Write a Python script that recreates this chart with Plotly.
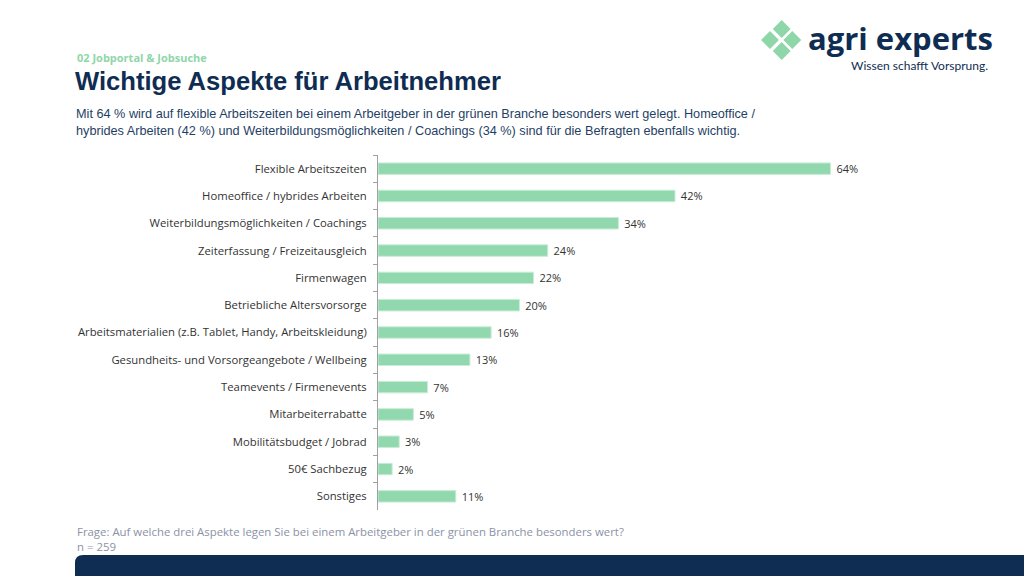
import plotly.graph_objects as go

categories = [
    "Flexible Arbeitszeiten",
    "Homeoffice / hybrides Arbeiten",
    "Weiterbildungsmöglichkeiten / Coachings",
    "Zeiterfassung / Freizeitausgleich",
    "Firmenwagen",
    "Betriebliche Altersvorsorge",
    "Arbeitsmaterialien (z.B. Tablet, Handy, Arbeitskleidung)",
    "Gesundheits- und Vorsorgeangebote / Wellbeing",
    "Teamevents / Firmenevents",
    "Mitarbeiterrabatte",
    "Mobilitätsbudget / Jobrad",
    "50€ Sachbezug",
    "Sonstiges",
]
values = [64, 42, 34, 24, 22, 20, 16, 13, 7, 5, 3, 2, 11]
labels = [f"{v}%" for v in values]

W, H = 1024, 576
L, R, T, B = 378, 873, 155, 510

def px(x):
    return (x - L) / (R - L)

def py(y):
    return (B - y) / (B - T)

NAVY = "#0F2D52"
GREEN = "#92D8AE"

fig = go.Figure(go.Bar(
    x=values, y=categories, orientation="h",
    marker=dict(color=GREEN, line=dict(color="#C8EDD6", width=1)),
    width=0.42,
    text=labels, texttemplate=" %{text}", textposition="outside", cliponaxis=False,
    constraintext="none",
    textfont=dict(family="Open Sans", size=11, color="#333333"),
    hoverinfo="skip",
))

fig.update_layout(
    width=W, height=H,
    margin=dict(l=L, r=W - R, t=T, b=H - B),
    paper_bgcolor="white", plot_bgcolor="white",
    showlegend=False,
    xaxis=dict(range=[0, 70], visible=False, fixedrange=True),
    yaxis=dict(
        autorange="reversed", showgrid=False, zeroline=False,
        showline=True, linecolor="#A0A0A0", linewidth=1,
        ticks="outside", ticklen=4, tickcolor="#A0A0A0", tickson="boundaries",
        ticklabelstandoff=8,
        tickfont=dict(family="Open Sans", size=11.3, color="#333333"),
    ),
    font=dict(family="Liberation Sans"),
)

ann = []
ann.append(dict(text="<b>02 Jobportal & Jobsuche</b>", x=px(75), y=py(58), xref="paper", yref="paper",
                xanchor="left", yanchor="middle", showarrow=False,
                font=dict(family="Open Sans", size=11, color="#8FD6A9")))
ann.append(dict(text="<b>Wichtige Aspekte für Arbeitnehmer</b>", x=px(73), y=py(81), xref="paper", yref="paper",
                xanchor="left", yanchor="middle", showarrow=False,
                font=dict(family="Liberation Sans", size=25.6, color=NAVY)))
ann.append(dict(text="Mit 64 % wird auf flexible Arbeitszeiten bei einem Arbeitgeber in der grünen Branche besonders wert gelegt. Homeoffice /<br>"
                     "hybrides Arbeiten (42 %) und Weiterbildungsmöglichkeiten / Coachings (34 %) sind für die Befragten ebenfalls wichtig.",
                x=px(74), y=py(123), xref="paper", yref="paper", align="left",
                xanchor="left", yanchor="middle", showarrow=False,
                font=dict(family="Liberation Sans", size=12.7, color="#1F3F66")))
ann.append(dict(text="<b>agri experts</b>", x=px(806), y=py(38), xref="paper", yref="paper",
                xanchor="left", yanchor="middle", showarrow=False,
                font=dict(family="Open Sans", size=31, color=NAVY)))
ann.append(dict(text="Wissen schafft Vorsprung.", x=px(990), y=py(66), xref="paper", yref="paper",
                xanchor="right", yanchor="middle", showarrow=False,
                font=dict(family="Lato", size=12, color=NAVY)))
ann.append(dict(text="Frage: Auf welche drei Aspekte legen Sie bei einem Arbeitgeber in der grünen Branche besonders wert?",
                x=px(75), y=py(531), xref="paper", yref="paper",
                xanchor="left", yanchor="middle", showarrow=False,
                font=dict(family="Open Sans", size=11.4, color="#8A92A6")))
ann.append(dict(text="n = 259", x=px(75), y=py(546), xref="paper", yref="paper",
                xanchor="left", yanchor="middle", showarrow=False,
                font=dict(family="Open Sans", size=11.4, color="#8A92A6")))
fig.update_layout(annotations=ann)

shapes = []
# logo diamonds
for cx, cy in [(781.7, 29), (770, 40), (792.3, 40), (781.7, 51)]:
    d = 7.5
    path = (f"M {px(cx)},{py(cy-d)} L {px(cx+d)},{py(cy)} L {px(cx)},{py(cy+d)} L {px(cx-d)},{py(cy)} Z")
    shapes.append(dict(type="path", path=path, xref="paper", yref="paper",
                       fillcolor="#8FD6A9", line=dict(width=2, color="#8FD6A9")))
# bottom bar with rounded top-left corner
r = 8
x0, y0, x1, y1 = 75, 555, 1030, 580
path = (f"M {px(x0)},{py(y1)} L {px(x0)},{py(y0+r)} Q {px(x0)},{py(y0)} {px(x0+r)},{py(y0)} "
        f"L {px(x1)},{py(y0)} L {px(x1)},{py(y1)} Z")
shapes.append(dict(type="path", path=path, xref="paper", yref="paper",
                   fillcolor="#0F2D52", line=dict(width=0)))
fig.update_layout(shapes=shapes)

fig.write_html("out.html")
